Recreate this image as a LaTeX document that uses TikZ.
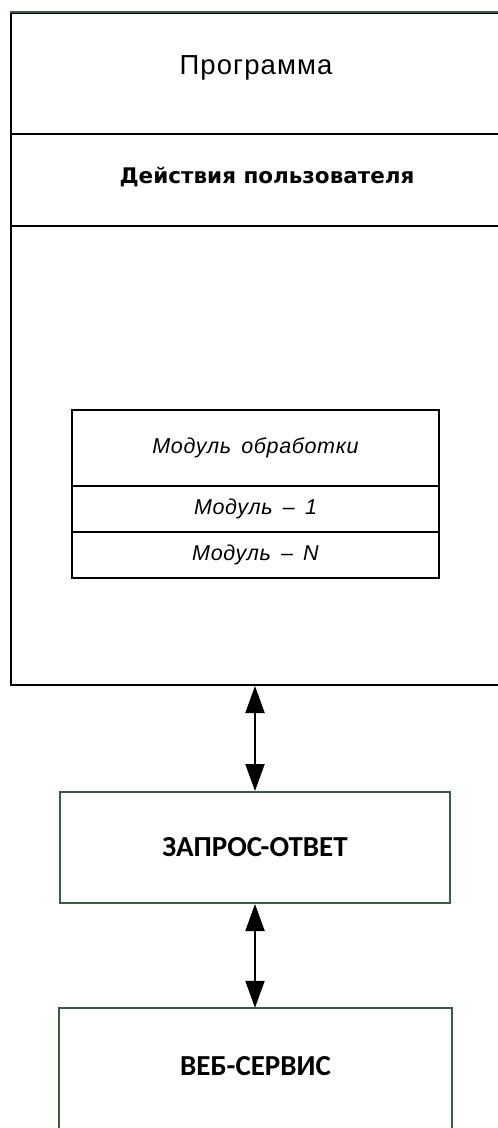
\documentclass[tikz,border=0pt]{standalone}
\usepackage{fontspec}
\setmainfont{DejaVu Sans}
\newfontfamily\gostfont[LetterSpace=4]{Liberation Sans}
\newfontfamily\gostitfont[LetterSpace=3]{Liberation Sans}
\newfontfamily\boldfont{DejaVu Sans}
\newfontfamily\calfont{Carlito}
\usetikzlibrary{arrows.meta}
\definecolor{boxgreen}{HTML}{3D5A45}
\tikzset{
  frame/.style={draw=black, line width=2pt, inner sep=0pt},
  greenframe/.style={draw=boxgreen, line width=2pt, inner sep=0pt},
  biarrow/.style={line width=2pt, {Triangle[width=19pt,length=27pt]}-{Triangle[width=19pt,length=27pt]}},
  gosttext/.style={font=\gostfont\fontsize{27.5}{31}\selectfont},
  gostit/.style={font=\gostitfont\itshape\fontsize{21.5}{25}\selectfont},
  boldtext/.style={font=\boldfont\bfseries\fontsize{21.5}{25}\selectfont},
  caltext/.style={font=\calfont\bfseries\fontsize{29}{34}\selectfont},
}
\begin{document}
\begin{tikzpicture}[x=1pt,y=-1pt]
\useasboundingbox (0,0) rectangle (498,1128);
\clip (0,0) rectangle (498,1128);
\fill[white] (0,0) rectangle (498,1128);

% main program frame
\node[frame, minimum width=493pt, minimum height=672pt, anchor=north west] (prog) at (10,12) {};
\draw[boxgreen, line width=2pt] (prog.north west) -- (prog.north east);
\coordinate (sep1l) at (10,134);
\coordinate (sep1r) at (503,134);
\coordinate (sep2l) at (10,226);
\coordinate (sep2r) at (503,226);
\draw[line width=2pt] (sep1l) -- (sep1r);
\draw[line width=2pt] (sep2l) -- (sep2r);
\node[gosttext] (title) at (256,68) {Программа};
\node[boldtext] (actions) at (267,177) {Действия пользователя};

% processing module
\node[frame, minimum width=367pt, minimum height=76pt] (mod0) at (255.5,448) {};
\node[frame, minimum width=367pt, minimum height=46pt] (mod1) at (255.5,509) {};
\node[frame, minimum width=367pt, minimum height=46pt] (modN) at (255.5,555) {};
\node[gostit] at (mod0) {Модуль\, обработки};
\node[gostit] at (mod1) {Модуль\, –\, 1};
\node[gostit] at (modN) {Модуль\, –\, N};

% request-response
\node[greenframe, minimum width=390pt, minimum height=111pt, caltext] (zap) at (255,847.5) {ЗАПРОС-ОТВЕТ};

% web service (cut off at bottom)
\node[minimum width=393pt, minimum height=116pt, inner sep=0pt, caltext] (web) at (255.5,1066) {ВЕБ-СЕРВИС};
\draw[boxgreen, line width=2pt] ([yshift=-30pt]web.south west) -- (web.north west) -- (web.north east) -- ([yshift=-30pt]web.south east);

% arrows
\draw[biarrow] (zap.north |- prog.south) -- (zap.north);
\draw[biarrow] (zap.south) -- (zap.south |- web.north);
\end{tikzpicture}
\end{document}
